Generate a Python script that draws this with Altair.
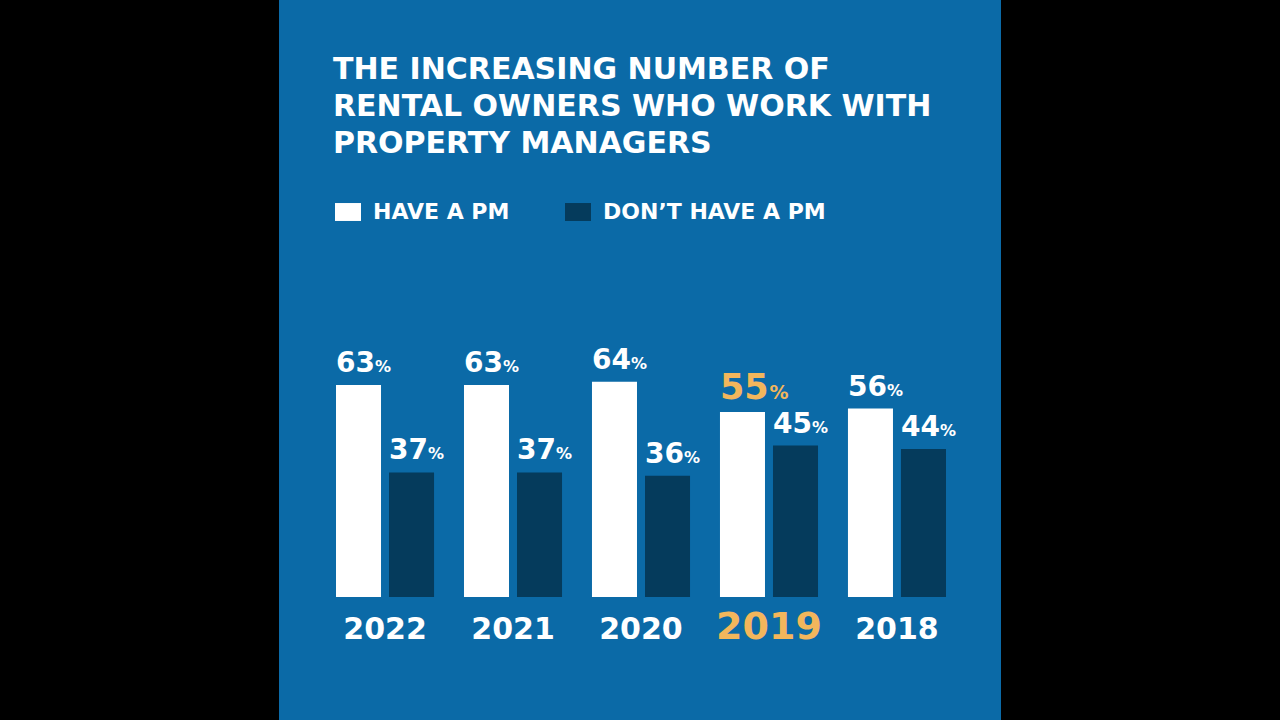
import altair as alt
import pandas as pd

years = ["2022", "2021", "2020", "2019", "2018"]
have_pm = [63, 63, 64, 55, 56]
dont_have_pm = [37, 37, 36, 45, 44]
series_names = ["HAVE A PM", "DON’T HAVE A PM"]
highlight_year = "2019"
title_lines = ["THE INCREASING NUMBER OF", "RENTAL OWNERS WHO WORK WITH", "PROPERTY MANAGERS"]

BLUE = "#0b6aa7"
DARK = "#053b5c"
GOLD = "#f3b65c"
FONT = "DejaVu Sans"

rows = []
for y, h, d in zip(years, have_pm, dont_have_pm):
    rows.append({"year": y, "series": series_names[0], "value": h})
    rows.append({"year": y, "series": series_names[1], "value": d})
df = pd.DataFrame(rows)

x_enc = alt.X("year:N", sort=years, axis=None,
              scale=alt.Scale(range=[57, 667], paddingInner=0.234, paddingOuter=0))
xo_enc = alt.XOffset("series:N", sort=series_names,
                     scale=alt.Scale(domain=series_names, paddingInner=0.151, paddingOuter=0))
y_enc = alt.Y("value:Q", axis=None, scale=alt.Scale(domain=[0, 100], range=[597, 260.5]))

base = alt.Chart(df)

bars = base.mark_bar().encode(
    x=x_enc, xOffset=xo_enc, y=y_enc,
    color=alt.Color("series:N", sort=series_names,
                    scale=alt.Scale(domain=series_names, range=["#ffffff", DARK]),
                    legend=alt.Legend(
                        orient="none", legendX=56, legendY=199, direction="horizontal",
                        title=None, symbolType="M-1,-0.69L1,-0.69L1,0.69L-1,0.69Z",
                        symbolSize=676, symbolStrokeWidth=0, symbolOpacity=1,
                        labelFont=FONT, labelFontSize=22, labelFontWeight="bold",
                        labelColor="white", labelOffset=12, labelLimit=400,
                        columnPadding=55)),
)

not_hl = (alt.datum.year != highlight_year) | (alt.datum.series != series_names[0])
is_hl = (alt.datum.year == highlight_year) & (alt.datum.series == series_names[0])

num = base.mark_text(align="left", baseline="alphabetic", dx=-22.5, dy=-13,
                     font=FONT, fontSize=28, fontWeight="bold", color="white").encode(
    x=x_enc, xOffset=xo_enc, y=y_enc, text="value:Q").transform_filter(not_hl)
pct = base.mark_text(align="left", baseline="alphabetic", dx=16.5, dy=-13,
                     font=FONT, fontSize=16, fontWeight="bold", color="white").encode(
    x=x_enc, xOffset=xo_enc, y=y_enc, text=alt.value("%")).transform_filter(not_hl)

hl_num = base.mark_text(align="left", baseline="alphabetic", dx=-22.5, dy=-13,
                        font=FONT, fontSize=35, fontWeight="bold", color=GOLD).encode(
    x=x_enc, xOffset=xo_enc, y=y_enc, text="value:Q").transform_filter(is_hl)
hl_pct = base.mark_text(align="left", baseline="alphabetic", dx=27, dy=-13,
                        font=FONT, fontSize=19, fontWeight="bold", color=GOLD).encode(
    x=x_enc, xOffset=xo_enc, y=y_enc, text=alt.value("%")).transform_filter(is_hl)

year_labels = base.mark_text(align="center", baseline="alphabetic", font=FONT,
                             fontWeight="bold").encode(
    x=x_enc, y=alt.value(639), text="year:N",
    color=alt.condition(alt.datum.year == highlight_year, alt.value(GOLD), alt.value("white")),
    size=alt.condition(alt.datum.year == highlight_year, alt.value(38), alt.value(30)),
).transform_filter(alt.datum.series == series_names[0])

chart = alt.layer(bars, num, pct, hl_num, hl_pct, year_labels).properties(
    width=722, height=720,
    title=alt.TitleParams(text=title_lines, anchor="start", font=FONT, fontSize=30,
                          fontWeight="bold", color="white", lineHeight=37,
                          baseline="top", offset=0, dx=54, dy=159, frame="group"),
    background="black",
    padding={"left": 279, "right": 279, "top": 0, "bottom": 0},
    autosize=alt.AutoSizeParams(type="none"),
).configure_view(fill=BLUE, stroke=None)

chart.save("out.html", embed_options={"renderer": "svg", "actions": False})
